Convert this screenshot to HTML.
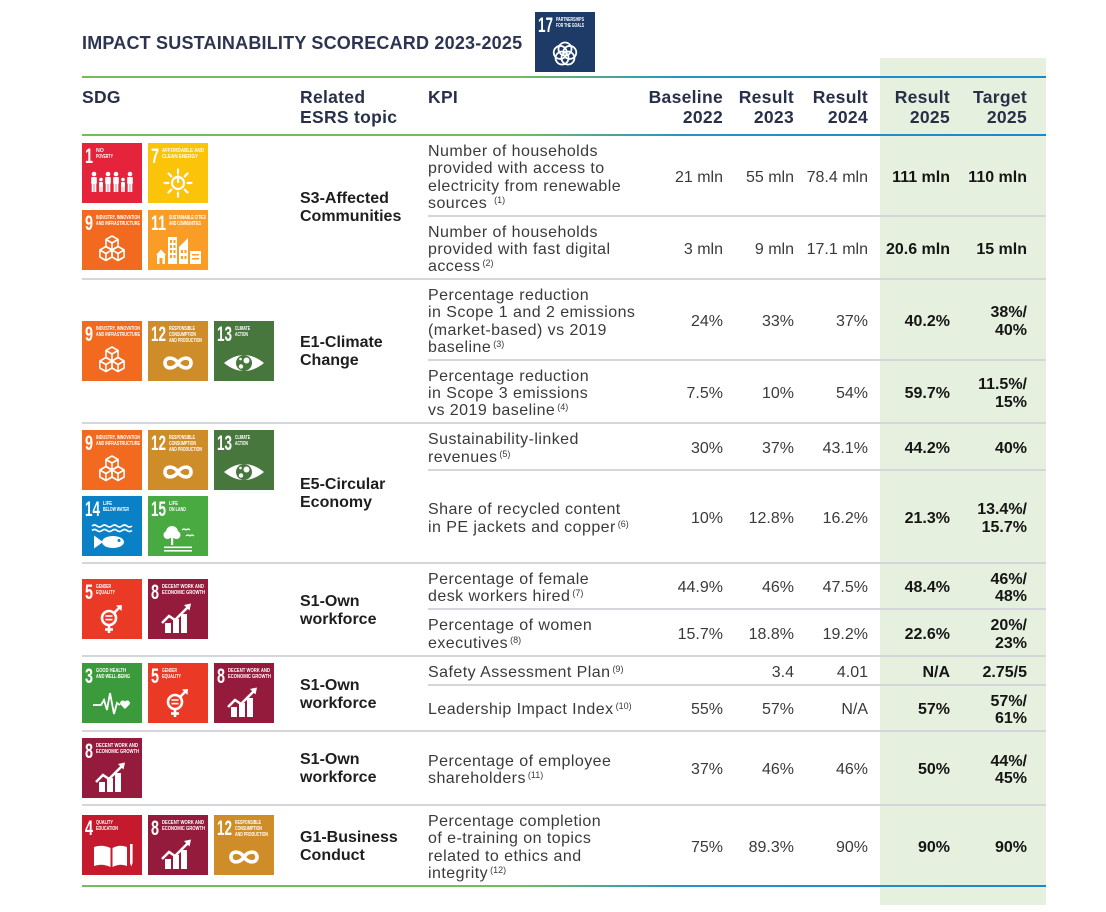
<!DOCTYPE html>
<html><head><meta charset="utf-8"><style>
body{margin:0;width:1106px;height:912px;position:relative;background:#fff;font-family:"Liberation Sans",sans-serif;overflow:hidden}
.a{position:absolute}
.ic{position:absolute;width:60px;height:60px}
.ic text.n{font-weight:bold;font-size:21px;font-family:"Liberation Sans",sans-serif;fill:#fff}
.ic text.l{font-weight:bold;font-size:5.2px;font-family:"Liberation Sans",sans-serif;fill:#fff}
.hl{position:absolute;left:82px;width:964px;height:2px;background:linear-gradient(90deg,#72bf5a 0%,#72bf5a 45%,#2a92c8 62%,#1d88c9 100%)}
.sep{position:absolute;height:2px;background:#d5d5dc}
.f{left:82px;width:964px}.p{left:428px;width:618px}
.row{position:absolute;left:0;width:1106px;display:flex;align-items:center;padding-top:4px;box-sizing:border-box}
.kpi{margin-left:428px;width:220px;font-size:16px;line-height:17.3px;letter-spacing:0.45px;color:#3a3a3a;white-space:nowrap}
.v{text-align:right;font-size:16px;line-height:17.5px;color:#3a3a3a;white-space:nowrap}
.c1{width:75px}.c2{width:71px}.c3{width:74px}
.c4{width:82px;font-weight:bold;color:#151515}.c5{width:77px;font-weight:bold;color:#151515}
sup{font-size:9px;line-height:0;vertical-align:5px;letter-spacing:0;margin-left:2px}
.grp{position:absolute;left:300px;width:125px;display:flex;align-items:center;font-weight:bold;font-size:16px;line-height:18px;color:#1e1e1e;padding-top:2px;box-sizing:border-box}
.hdr{position:absolute;top:87px;font-weight:bold;font-size:17.5px;line-height:20px;color:#283049;letter-spacing:0.3px;white-space:nowrap}
.r{text-align:right}
</style></head><body>
<svg width="0" height="0" style="position:absolute">
<defs>
<g id="p1" fill="#fff">
<circle cx="12" cy="31" r="2.3"/><rect x="9.2" y="34" width="5.6" height="7" rx="1"/><rect x="9.7" y="40" width="2" height="9"/><rect x="12.3" y="40" width="2" height="9"/>
<circle cx="19" cy="36.5" r="1.8"/><rect x="17" y="39" width="4" height="5" rx="1"/><rect x="17.2" y="43" width="1.6" height="6"/><rect x="19.2" y="43" width="1.6" height="6"/>
<circle cx="26" cy="31" r="2.3"/><rect x="23.2" y="34" width="5.6" height="7" rx="1"/><rect x="23.7" y="40" width="2" height="9"/><rect x="26.3" y="40" width="2" height="9"/>
<circle cx="34" cy="31" r="2.3"/><rect x="31.2" y="34" width="5.6" height="7" rx="1"/><rect x="31.7" y="40" width="2" height="9"/><rect x="34.3" y="40" width="2" height="9"/>
<circle cx="41" cy="36.5" r="1.8"/><rect x="39" y="39" width="4" height="5" rx="1"/><rect x="39.2" y="43" width="1.6" height="6"/><rect x="41.2" y="43" width="1.6" height="6"/>
<circle cx="48" cy="31" r="2.3"/><rect x="45.2" y="34" width="5.6" height="7" rx="1"/><rect x="45.7" y="40" width="2" height="9"/><rect x="48.3" y="40" width="2" height="9"/>
</g>
<g id="p7" stroke="#fff" fill="none" stroke-width="2.2" stroke-linecap="round">
<circle cx="30" cy="40" r="6"/><line x1="30" y1="33" x2="30" y2="39"/>
<line x1="39.5" y1="40" x2="43.5" y2="40"/><line x1="36.7" y1="46.7" x2="39.5" y2="49.5"/><line x1="30" y1="49.5" x2="30" y2="53.5"/><line x1="23.3" y1="46.7" x2="20.5" y2="49.5"/>
<line x1="20.5" y1="40" x2="16.5" y2="40"/><line x1="23.3" y1="33.3" x2="20.5" y2="30.5"/><line x1="30" y1="30.5" x2="30" y2="26.5"/><line x1="36.7" y1="33.3" x2="39.5" y2="30.5"/>
</g>
<g id="p9" stroke="#fff" fill="none" stroke-width="1.6" stroke-linejoin="round">
<polygon points="30,26 36.06,29.5 36.06,36.5 30,40 23.94,36.5 23.94,29.5"/><path d="M23.94,29.5 L30,33 L36.06,29.5 M30,33 L30,40"/>
<polygon points="23.94,36.5 30,40 30,47 23.94,50.5 17.88,47 17.88,40"/><path d="M17.88,40 L23.94,43.5 L30,40 M23.94,43.5 L23.94,50.5"/>
<polygon points="36.06,36.5 42.12,40 42.12,47 36.06,50.5 30,47 30,40"/><path d="M30,40 L36.06,43.5 L42.12,40 M36.06,43.5 L36.06,50.5"/>
</g>
<g id="p11">
<g fill="#fff"><polygon points="8,45 13,39.5 18,45"/><rect x="9" y="45" width="8" height="9"/><rect x="20" y="27" width="9" height="27"/><polygon points="31,54 31,37 40,28 40,54"/><rect x="42" y="41" width="11" height="13"/></g>
<g fill="#f99d26"><rect x="22" y="30" width="2" height="3"/><rect x="25.5" y="30" width="2" height="3"/><rect x="22" y="35" width="2" height="3"/><rect x="25.5" y="35" width="2" height="3"/><rect x="22" y="40" width="2" height="3"/><rect x="25.5" y="40" width="2" height="3"/><rect x="22" y="45" width="2" height="3"/><rect x="25.5" y="45" width="2" height="3"/><rect x="33" y="40" width="2" height="3"/><rect x="36.5" y="40" width="2" height="3"/><rect x="33" y="46" width="2" height="3"/><rect x="36.5" y="46" width="2" height="3"/><rect x="44" y="44" width="7" height="1.5"/><rect x="44" y="48" width="7" height="1.5"/><rect x="11.5" y="48" width="3" height="6"/></g>
</g>
<g id="p12" stroke="#fff" fill="none" stroke-width="3.6">
<path d="M30,42 C26,35.5 17,35.5 17,42 C17,48.5 26,48.5 30,42 C34,35.5 43,35.5 43,42 C43,48.5 34,48.5 30,42"/>
</g>
<g id="p13">
<path d="M10,42 Q30,26 50,42 Q30,58 10,42 Z" fill="#fff"/><circle cx="30" cy="42" r="8" fill="#48773e"/><circle cx="32.5" cy="39.5" r="3" fill="#fff"/><circle cx="27" cy="45.5" r="2.2" fill="#fff"/><circle cx="26.5" cy="38" r="1.3" fill="#fff"/>
</g>
<g id="p14">
<path d="M10,30 q2.5,-2 5,0 t5,0 t5,0 t5,0 t5,0 t5,0 t5,0 t5,0 M10,34.5 q2.5,-2 5,0 t5,0 t5,0 t5,0 t5,0 t5,0 t5,0 t5,0" stroke="#fff" stroke-width="1.6" fill="none"/>
<ellipse cx="31" cy="46" rx="11" ry="6" fill="#fff"/><polygon points="12,39.5 21,46 12,52.5" fill="#fff"/><circle cx="37" cy="44.5" r="1.5" fill="#0a81c7"/>
</g>
<g id="p15" fill="#fff">
<circle cx="24" cy="36" r="6"/><circle cx="19.5" cy="39" r="4"/><circle cx="28.5" cy="39" r="4"/><rect x="23" y="40" width="2.2" height="9"/>
<rect x="16" y="50.5" width="28" height="1.6"/><rect x="16" y="54" width="28" height="1.6"/>
<path d="M34,34 q2,-2 4,0 q2,-2 4,0 M38,40 q2,-2 4,0 q2,-2 4,0" stroke="#fff" stroke-width="1.2" fill="none"/>
</g>
<g id="p5" stroke="#fff" stroke-width="2.6" fill="none">
<circle cx="27" cy="39" r="7"/><line x1="32" y1="34" x2="38" y2="28"/><line x1="27" y1="46" x2="27" y2="54"/><line x1="23" y1="50.5" x2="31" y2="50.5"/>
<polygon points="34,26.5 40,26 39.5,32" fill="#fff" stroke="none"/><rect x="23.5" y="36.2" width="7" height="1.6" fill="#fff" stroke="none"/><rect x="23.5" y="39.8" width="7" height="1.6" fill="#fff" stroke="none"/>
</g>
<g id="p8" fill="#fff">
<rect x="17" y="44" width="6" height="10"/><rect x="25" y="40" width="6" height="14"/><rect x="33" y="35" width="6" height="19"/>
<polyline points="14,44 21,37 27,41 40,28" stroke="#fff" stroke-width="2.5" fill="none"/><polygon points="36,26 43,24.5 41.5,31.5"/>
</g>
<g id="p3">
<polyline points="11,42 19,42 22,37 25,47 28,30 32,51 35,40 38,42" stroke="#fff" stroke-width="1.8" fill="none"/>
<path d="M43,46 l-4.5,-4.5 a2.4,2.4 0 0 1 4.5,-2.8 a2.4,2.4 0 0 1 4.5,2.8 z" fill="#fff"/>
</g>
<g id="p4" fill="#fff">
<path d="M12,32 Q20,29 28.5,33 L28.5,52 Q20,48 12,51 Z"/><path d="M30.5,33 Q38,29 45,32 L45,51 Q38,48 30.5,52 Z"/>
<rect x="48" y="29" width="2.6" height="19"/><polygon points="48,48 50.6,48 49.3,51.5"/>
</g>
<g id="p17" stroke="#fff" stroke-width="1.8" fill="none">
<circle cx="30" cy="37" r="6.5"/><circle cx="34.76" cy="40.45" r="6.5"/><circle cx="32.94" cy="46.05" r="6.5"/><circle cx="27.06" cy="46.05" r="6.5"/><circle cx="25.24" cy="40.45" r="6.5"/>
</g>
</defs></svg>

<div class="a" style="left:880px;top:58px;width:166px;height:847px;background:#e5f0de"></div>

<div class="a" style="left:82px;top:33px;font-weight:bold;font-size:18px;line-height:20px;color:#2c3451;letter-spacing:0.2px;white-space:nowrap">IMPACT SUSTAINABILITY SCORECARD 2023-2025</div>

<svg class="ic" style="left:535px;top:12px" viewBox="0 0 60 60"><rect width="60" height="60" fill="#1e3a66"/><text class="n" x="3" y="20" textLength="15" lengthAdjust="spacingAndGlyphs">17</text><text class="l" x="21" y="9" textLength="28" lengthAdjust="spacingAndGlyphs">PARTNERSHIPS</text><text class="l" x="21" y="15" textLength="28" lengthAdjust="spacingAndGlyphs">FOR THE GOALS</text><use href="#p17"/></svg>

<div class="hl" style="top:76px"></div>
<div class="hl" style="top:134px"></div>
<div class="hl" style="top:885px"></div>

<div class="hdr" style="left:82px">SDG</div>
<div class="hdr" style="left:300px">Related<br>ESRS topic</div>
<div class="hdr" style="left:428px">KPI</div>
<div class="hdr r" style="right:383px">Baseline<br>2022</div>
<div class="hdr r" style="right:312px">Result<br>2023</div>
<div class="hdr r" style="right:238px">Result<br>2024</div>
<div class="hdr r" style="right:156px">Result<br>2025</div>
<div class="hdr r" style="right:79px">Target<br>2025</div>

<div class="sep p" style="top:215px"></div>
<div class="sep f" style="top:278px"></div>
<div class="sep p" style="top:359px"></div>
<div class="sep f" style="top:422px"></div>
<div class="sep p" style="top:469px"></div>
<div class="sep f" style="top:562px"></div>
<div class="sep p" style="top:608px"></div>
<div class="sep f" style="top:655px"></div>
<div class="sep p" style="top:684px"></div>
<div class="sep f" style="top:730px"></div>
<div class="sep f" style="top:804px"></div>

<div class="row" style="top:135px;height:81px"><div class="kpi">Number of households<br>provided with access to<br>electricity from renewable<br>sources <sup>(1)</sup></div><div class="v c1">21 mln</div><div class="v c2">55 mln</div><div class="v c3">78.4 mln</div><div class="v c4">111 mln</div><div class="v c5">110 mln</div></div>
<div class="row" style="top:216px;height:63px"><div class="kpi">Number of households<br>provided with fast digital<br>access<sup>(2)</sup></div><div class="v c1">3 mln</div><div class="v c2">9 mln</div><div class="v c3">17.1 mln</div><div class="v c4">20.6 mln</div><div class="v c5">15 mln</div></div>
<div class="row" style="top:279px;height:81px"><div class="kpi">Percentage reduction<br>in Scope 1 and 2 emissions<br>(market-based) vs 2019<br>baseline<sup>(3)</sup></div><div class="v c1">24%</div><div class="v c2">33%</div><div class="v c3">37%</div><div class="v c4">40.2%</div><div class="v c5">38%/<br>40%</div></div>
<div class="row" style="top:360px;height:63px"><div class="kpi">Percentage reduction<br>in Scope 3 emissions<br>vs 2019 baseline<sup>(4)</sup></div><div class="v c1">7.5%</div><div class="v c2">10%</div><div class="v c3">54%</div><div class="v c4">59.7%</div><div class="v c5">11.5%/<br>15%</div></div>
<div class="row" style="top:423px;height:47px"><div class="kpi">Sustainability-linked<br>revenues<sup>(5)</sup></div><div class="v c1">30%</div><div class="v c2">37%</div><div class="v c3">43.1%</div><div class="v c4">44.2%</div><div class="v c5">40%</div></div>
<div class="row" style="top:470px;height:93px"><div class="kpi">Share of recycled content<br>in PE jackets and copper<sup>(6)</sup></div><div class="v c1">10%</div><div class="v c2">12.8%</div><div class="v c3">16.2%</div><div class="v c4">21.3%</div><div class="v c5">13.4%/<br>15.7%</div></div>
<div class="row" style="top:563px;height:46px"><div class="kpi">Percentage of female<br>desk workers hired<sup>(7)</sup></div><div class="v c1">44.9%</div><div class="v c2">46%</div><div class="v c3">47.5%</div><div class="v c4">48.4%</div><div class="v c5">46%/<br>48%</div></div>
<div class="row" style="top:609px;height:47px"><div class="kpi">Percentage of women<br>executives<sup>(8)</sup></div><div class="v c1">15.7%</div><div class="v c2">18.8%</div><div class="v c3">19.2%</div><div class="v c4">22.6%</div><div class="v c5">20%/<br>23%</div></div>
<div class="row" style="top:656px;height:29px"><div class="kpi">Safety Assessment Plan<sup>(9)</sup></div><div class="v c1"></div><div class="v c2">3.4</div><div class="v c3">4.01</div><div class="v c4">N/A</div><div class="v c5">2.75/5</div></div>
<div class="row" style="top:685px;height:46px"><div class="kpi">Leadership Impact Index<sup>(10)</sup></div><div class="v c1">55%</div><div class="v c2">57%</div><div class="v c3">N/A</div><div class="v c4">57%</div><div class="v c5">57%/<br>61%</div></div>
<div class="row" style="top:731px;height:74px"><div class="kpi">Percentage of employee<br>shareholders<sup>(11)</sup></div><div class="v c1">37%</div><div class="v c2">46%</div><div class="v c3">46%</div><div class="v c4">50%</div><div class="v c5">44%/<br>45%</div></div>
<div class="row" style="top:805px;height:81px"><div class="kpi">Percentage completion<br>of e-training on topics<br>related to ethics and<br>integrity<sup>(12)</sup></div><div class="v c1">75%</div><div class="v c2">89.3%</div><div class="v c3">90%</div><div class="v c4">90%</div><div class="v c5">90%</div></div>

<div class="grp" style="top:135px;height:144px">S3-Affected<br>Communities</div>
<div class="grp" style="top:279px;height:144px">E1-Climate<br>Change</div>
<div class="grp" style="top:423px;height:140px">E5-Circular<br>Economy</div>
<div class="grp" style="top:563px;height:93px">S1-Own<br>workforce</div>
<div class="grp" style="top:656px;height:75px">S1-Own<br>workforce</div>
<div class="grp" style="top:731px;height:74px">S1-Own<br>workforce</div>
<div class="grp" style="top:805px;height:81px">G1-Business<br>Conduct</div>

<svg class="ic" style="left:82px;top:143px" viewBox="0 0 60 60"><rect width="60" height="60" fill="#e5243b"/><text class="n" x="3" y="20" textLength="8" lengthAdjust="spacingAndGlyphs">1</text><text class="l" x="14" y="9">NO</text><text class="l" x="14" y="15" textLength="17" lengthAdjust="spacingAndGlyphs">POVERTY</text><use href="#p1"/></svg>
<svg class="ic" style="left:148px;top:143px" viewBox="0 0 60 60"><rect width="60" height="60" fill="#fcc30b"/><text class="n" x="3" y="20" textLength="8" lengthAdjust="spacingAndGlyphs">7</text><text class="l" x="14" y="9" textLength="42" lengthAdjust="spacingAndGlyphs">AFFORDABLE AND</text><text class="l" x="14" y="15" textLength="36" lengthAdjust="spacingAndGlyphs">CLEAN ENERGY</text><use href="#p7"/></svg>
<svg class="ic" style="left:82px;top:210px" viewBox="0 0 60 60"><rect width="60" height="60" fill="#f26a1f"/><text class="n" x="3" y="20" textLength="8" lengthAdjust="spacingAndGlyphs">9</text><text class="l" x="14" y="9" textLength="44" lengthAdjust="spacingAndGlyphs">INDUSTRY, INNOVATION</text><text class="l" x="14" y="15" textLength="44" lengthAdjust="spacingAndGlyphs">AND INFRASTRUCTURE</text><use href="#p9"/></svg>
<svg class="ic" style="left:148px;top:210px" viewBox="0 0 60 60"><rect width="60" height="60" fill="#f99d26"/><text class="n" x="3" y="20" textLength="15" lengthAdjust="spacingAndGlyphs">11</text><text class="l" x="21" y="9" textLength="37" lengthAdjust="spacingAndGlyphs">SUSTAINABLE CITIES</text><text class="l" x="21" y="15" textLength="32" lengthAdjust="spacingAndGlyphs">AND COMMUNITIES</text><use href="#p11"/></svg>

<svg class="ic" style="left:82px;top:321px" viewBox="0 0 60 60"><rect width="60" height="60" fill="#f26a1f"/><text class="n" x="3" y="20" textLength="8" lengthAdjust="spacingAndGlyphs">9</text><text class="l" x="14" y="9" textLength="44" lengthAdjust="spacingAndGlyphs">INDUSTRY, INNOVATION</text><text class="l" x="14" y="15" textLength="44" lengthAdjust="spacingAndGlyphs">AND INFRASTRUCTURE</text><use href="#p9"/></svg>
<svg class="ic" style="left:148px;top:321px" viewBox="0 0 60 60"><rect width="60" height="60" fill="#cf8d2a"/><text class="n" x="3" y="20" textLength="15" lengthAdjust="spacingAndGlyphs">12</text><text class="l" x="21" y="9" textLength="26" lengthAdjust="spacingAndGlyphs">RESPONSIBLE</text><text class="l" x="21" y="15" textLength="27" lengthAdjust="spacingAndGlyphs">CONSUMPTION</text><text class="l" x="21" y="21" textLength="33" lengthAdjust="spacingAndGlyphs">AND PRODUCTION</text><use href="#p12"/></svg>
<svg class="ic" style="left:214px;top:321px" viewBox="0 0 60 60"><rect width="60" height="60" fill="#48773e"/><text class="n" x="3" y="20" textLength="15" lengthAdjust="spacingAndGlyphs">13</text><text class="l" x="21" y="9" textLength="15" lengthAdjust="spacingAndGlyphs">CLIMATE</text><text class="l" x="21" y="15" textLength="13" lengthAdjust="spacingAndGlyphs">ACTION</text><use href="#p13"/></svg>

<svg class="ic" style="left:82px;top:430px" viewBox="0 0 60 60"><rect width="60" height="60" fill="#f26a1f"/><text class="n" x="3" y="20" textLength="8" lengthAdjust="spacingAndGlyphs">9</text><text class="l" x="14" y="9" textLength="44" lengthAdjust="spacingAndGlyphs">INDUSTRY, INNOVATION</text><text class="l" x="14" y="15" textLength="44" lengthAdjust="spacingAndGlyphs">AND INFRASTRUCTURE</text><use href="#p9"/></svg>
<svg class="ic" style="left:148px;top:430px" viewBox="0 0 60 60"><rect width="60" height="60" fill="#cf8d2a"/><text class="n" x="3" y="20" textLength="15" lengthAdjust="spacingAndGlyphs">12</text><text class="l" x="21" y="9" textLength="26" lengthAdjust="spacingAndGlyphs">RESPONSIBLE</text><text class="l" x="21" y="15" textLength="27" lengthAdjust="spacingAndGlyphs">CONSUMPTION</text><text class="l" x="21" y="21" textLength="33" lengthAdjust="spacingAndGlyphs">AND PRODUCTION</text><use href="#p12"/></svg>
<svg class="ic" style="left:214px;top:430px" viewBox="0 0 60 60"><rect width="60" height="60" fill="#48773e"/><text class="n" x="3" y="20" textLength="15" lengthAdjust="spacingAndGlyphs">13</text><text class="l" x="21" y="9" textLength="15" lengthAdjust="spacingAndGlyphs">CLIMATE</text><text class="l" x="21" y="15" textLength="13" lengthAdjust="spacingAndGlyphs">ACTION</text><use href="#p13"/></svg>
<svg class="ic" style="left:82px;top:496px" viewBox="0 0 60 60"><rect width="60" height="60" fill="#0a81c7"/><text class="n" x="3" y="20" textLength="15" lengthAdjust="spacingAndGlyphs">14</text><text class="l" x="21" y="9" textLength="9" lengthAdjust="spacingAndGlyphs">LIFE</text><text class="l" x="21" y="15" textLength="26" lengthAdjust="spacingAndGlyphs">BELOW WATER</text><use href="#p14"/></svg>
<svg class="ic" style="left:148px;top:496px" viewBox="0 0 60 60"><rect width="60" height="60" fill="#4aaa42"/><text class="n" x="3" y="20" textLength="15" lengthAdjust="spacingAndGlyphs">15</text><text class="l" x="21" y="9" textLength="9" lengthAdjust="spacingAndGlyphs">LIFE</text><text class="l" x="21" y="15" textLength="17" lengthAdjust="spacingAndGlyphs">ON LAND</text><use href="#p15"/></svg>

<svg class="ic" style="left:82px;top:579px" viewBox="0 0 60 60"><rect width="60" height="60" fill="#ea3a26"/><text class="n" x="3" y="20" textLength="8" lengthAdjust="spacingAndGlyphs">5</text><text class="l" x="14" y="9" textLength="15" lengthAdjust="spacingAndGlyphs">GENDER</text><text class="l" x="14" y="15" textLength="19" lengthAdjust="spacingAndGlyphs">EQUALITY</text><use href="#p5"/></svg>
<svg class="ic" style="left:148px;top:579px" viewBox="0 0 60 60"><rect width="60" height="60" fill="#951b3c"/><text class="n" x="3" y="20" textLength="8" lengthAdjust="spacingAndGlyphs">8</text><text class="l" x="14" y="9" textLength="42" lengthAdjust="spacingAndGlyphs">DECENT WORK AND</text><text class="l" x="14" y="15" textLength="43" lengthAdjust="spacingAndGlyphs">ECONOMIC GROWTH</text><use href="#p8"/></svg>

<svg class="ic" style="left:82px;top:663px" viewBox="0 0 60 60"><rect width="60" height="60" fill="#3b9b3c"/><text class="n" x="3" y="20" textLength="8" lengthAdjust="spacingAndGlyphs">3</text><text class="l" x="14" y="9" textLength="30" lengthAdjust="spacingAndGlyphs">GOOD HEALTH</text><text class="l" x="14" y="15" textLength="34" lengthAdjust="spacingAndGlyphs">AND WELL-BEING</text><use href="#p3"/></svg>
<svg class="ic" style="left:148px;top:663px" viewBox="0 0 60 60"><rect width="60" height="60" fill="#ea3a26"/><text class="n" x="3" y="20" textLength="8" lengthAdjust="spacingAndGlyphs">5</text><text class="l" x="14" y="9" textLength="15" lengthAdjust="spacingAndGlyphs">GENDER</text><text class="l" x="14" y="15" textLength="19" lengthAdjust="spacingAndGlyphs">EQUALITY</text><use href="#p5"/></svg>
<svg class="ic" style="left:214px;top:663px" viewBox="0 0 60 60"><rect width="60" height="60" fill="#951b3c"/><text class="n" x="3" y="20" textLength="8" lengthAdjust="spacingAndGlyphs">8</text><text class="l" x="14" y="9" textLength="42" lengthAdjust="spacingAndGlyphs">DECENT WORK AND</text><text class="l" x="14" y="15" textLength="43" lengthAdjust="spacingAndGlyphs">ECONOMIC GROWTH</text><use href="#p8"/></svg>

<svg class="ic" style="left:82px;top:738px" viewBox="0 0 60 60"><rect width="60" height="60" fill="#951b3c"/><text class="n" x="3" y="20" textLength="8" lengthAdjust="spacingAndGlyphs">8</text><text class="l" x="14" y="9" textLength="42" lengthAdjust="spacingAndGlyphs">DECENT WORK AND</text><text class="l" x="14" y="15" textLength="43" lengthAdjust="spacingAndGlyphs">ECONOMIC GROWTH</text><use href="#p8"/></svg>

<svg class="ic" style="left:82px;top:815px" viewBox="0 0 60 60"><rect width="60" height="60" fill="#c5192d"/><text class="n" x="3" y="20" textLength="8" lengthAdjust="spacingAndGlyphs">4</text><text class="l" x="14" y="9" textLength="17" lengthAdjust="spacingAndGlyphs">QUALITY</text><text class="l" x="14" y="15" textLength="22" lengthAdjust="spacingAndGlyphs">EDUCATION</text><use href="#p4"/></svg>
<svg class="ic" style="left:148px;top:815px" viewBox="0 0 60 60"><rect width="60" height="60" fill="#951b3c"/><text class="n" x="3" y="20" textLength="8" lengthAdjust="spacingAndGlyphs">8</text><text class="l" x="14" y="9" textLength="42" lengthAdjust="spacingAndGlyphs">DECENT WORK AND</text><text class="l" x="14" y="15" textLength="43" lengthAdjust="spacingAndGlyphs">ECONOMIC GROWTH</text><use href="#p8"/></svg>
<svg class="ic" style="left:214px;top:815px" viewBox="0 0 60 60"><rect width="60" height="60" fill="#cf8d2a"/><text class="n" x="3" y="20" textLength="15" lengthAdjust="spacingAndGlyphs">12</text><text class="l" x="21" y="9" textLength="26" lengthAdjust="spacingAndGlyphs">RESPONSIBLE</text><text class="l" x="21" y="15" textLength="27" lengthAdjust="spacingAndGlyphs">CONSUMPTION</text><text class="l" x="21" y="21" textLength="33" lengthAdjust="spacingAndGlyphs">AND PRODUCTION</text><use href="#p12"/></svg>

</body></html>
